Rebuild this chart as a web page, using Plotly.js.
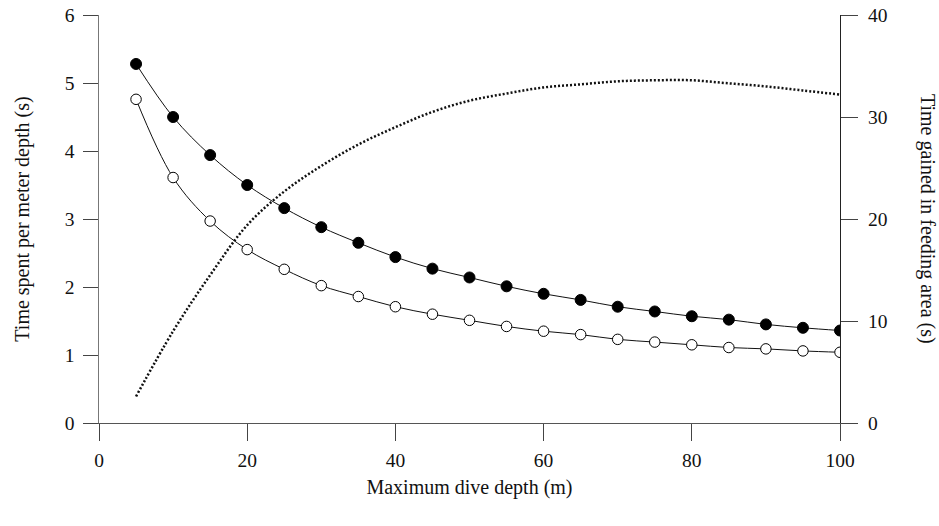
<!DOCTYPE html>
<html>
<head>
<meta charset="utf-8">
<script src="https://cdn.plot.ly/plotly-3.0.1.min.js"></script>
<style>html,body{margin:0;padding:0;background:#fff;}#chart{width:939px;height:526px;}</style>
</head>
<body>
<div id="chart"></div>
<script>
const depth = [5,10,15,20,25,30,35,40,45,50,55,60,65,70,75,80,85,90,95,100];
const timePerMeterFilled = [5.28,4.50,3.94,3.50,3.16,2.88,2.65,2.44,2.27,2.14,2.01,1.90,1.81,1.71,1.64,1.57,1.52,1.45,1.40,1.36];
const timePerMeterOpen = [4.76,3.61,2.97,2.55,2.26,2.02,1.86,1.71,1.60,1.51,1.42,1.35,1.30,1.23,1.19,1.15,1.11,1.09,1.06,1.04];
const timeGained = [2.6,9.0,14.5,19.4,22.7,25.2,27.3,29.0,30.5,31.6,32.3,32.9,33.2,33.5,33.6,33.6,33.3,33.0,32.6,32.2];
const xTicks = [0,20,40,60,80,100];
const yTicks = [0,1,2,3,4,5,6];
const y2Ticks = [0,10,20,30,40];

const serif = "Liberation Serif, Times New Roman, serif";

const traces = [
  {
    x: depth, y: timeGained, yaxis: 'y2', type: 'scatter', mode: 'lines',
    line: {color: '#111', width: 2.5, dash: '2px,2px', shape: 'spline'},
    hoverinfo: 'skip', showlegend: false
  },
  {
    x: depth, y: timePerMeterFilled, type: 'scatter', mode: 'lines+markers',
    line: {color: '#111', width: 1, shape: 'spline'},
    marker: {symbol: 'circle', size: 11, color: '#000', line: {color: '#000', width: 1}},
    showlegend: false
  },
  {
    x: depth, y: timePerMeterOpen, type: 'scatter', mode: 'lines+markers',
    line: {color: '#111', width: 1, shape: 'spline'},
    marker: {symbol: 'circle', size: 10.5, color: '#fff', line: {color: '#000', width: 1}},
    showlegend: false
  }
];

const layout = {
  width: 939, height: 526,
  margin: {l: 99, r: 99, t: 15, b: 103},
  paper_bgcolor: '#fff', plot_bgcolor: '#fff',
  font: {family: serif, color: '#111', size: 19},
  showlegend: false,
  xaxis: {
    range: [0, 100], tickvals: xTicks, ticktext: xTicks.map(String),
    showgrid: false, zeroline: false, showline: true, linecolor: '#555', linewidth: 1,
    ticks: 'outside', ticklen: 17, tickcolor: '#444', tickwidth: 1,
    tickfont: {family: serif, size: 19.5, color: '#111'},
    ticklabelstandoff: 3,
    title: {text: 'Maximum dive depth (m)', font: {family: serif, size: 20, color: '#111'}, standoff: 9}
  },
  yaxis: {
    range: [0, 6], tickvals: yTicks, ticktext: yTicks.map(String),
    showgrid: false, zeroline: false, showline: true, linecolor: '#777', linewidth: 1.5,
    ticks: 'outside', ticklen: 15, tickcolor: '#444', tickwidth: 1,
    tickfont: {family: serif, size: 19.5, color: '#111'},
    ticklabelstandoff: 4,
    title: {text: 'Time spent per meter depth (s)', font: {family: serif, size: 20, color: '#111'}, standoff: 30}
  },
  yaxis2: {
    range: [0, 40], tickvals: y2Ticks, ticktext: y2Ticks.map(String),
    overlaying: 'y', side: 'right',
    showgrid: false, zeroline: false, showline: true, linecolor: '#222', linewidth: 1.2,
    ticks: 'outside', ticklen: 17, tickcolor: '#444', tickwidth: 1,
    tickfont: {family: serif, size: 19.5, color: '#111'},
    ticklabelstandoff: 6
  },
  annotations: [{
    text: 'Time gained in feeding area (s)', xref: 'paper', yref: 'paper',
    x: 1.1188, y: 0.5, xanchor: 'center', yanchor: 'middle', textangle: 90,
    showarrow: false, font: {family: serif, size: 20, color: '#111'}
  }]
};

Plotly.newPlot('chart', traces, layout, {staticPlot: true, displayModeBar: false});
</script>
</body>
</html>
